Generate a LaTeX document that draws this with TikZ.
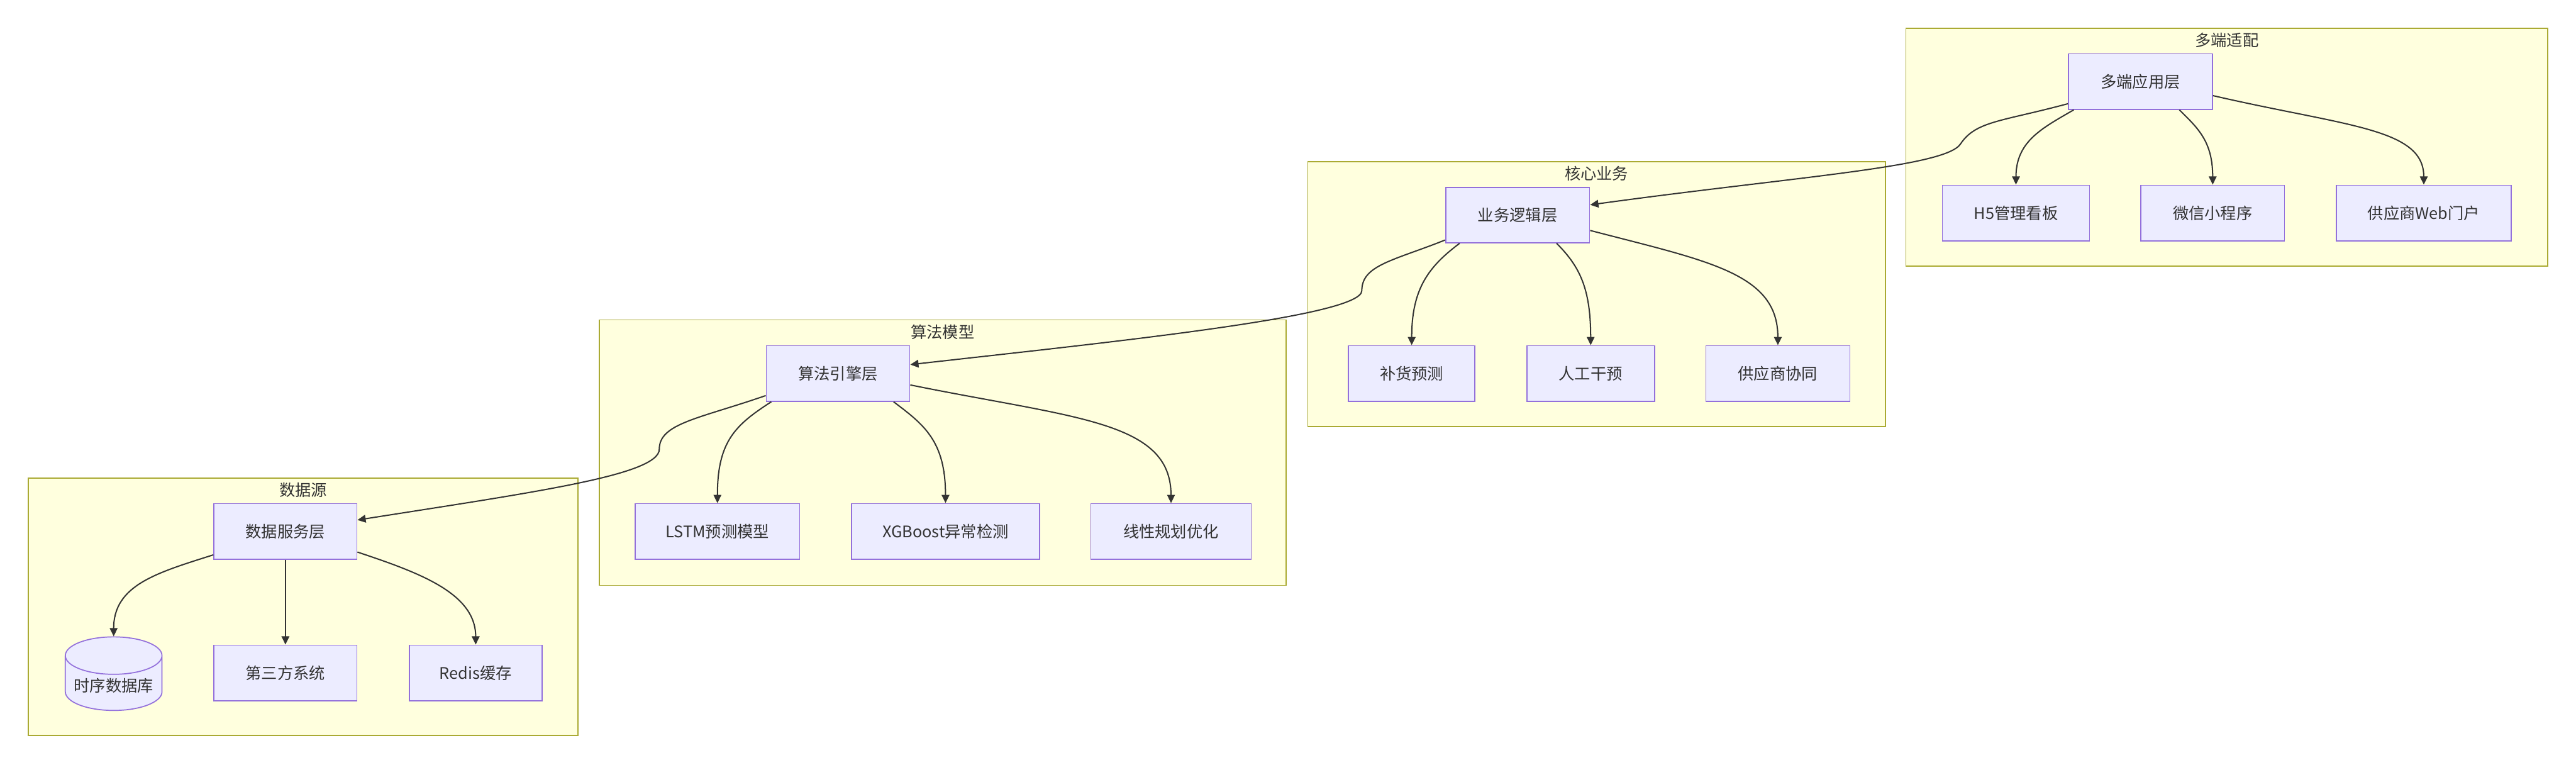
\documentclass[tikz,border=0pt]{standalone}
\usepackage{fontspec}
\setmainfont{Noto Sans CJK SC}
\usepackage{tikz}
\usetikzlibrary{shapes.geometric,arrows.meta,positioning}
\definecolor{grpfill}{HTML}{FFFFDE}
\definecolor{grpline}{HTML}{AAAA33}
\definecolor{boxfill}{HTML}{ECECFF}
\definecolor{boxline}{HTML}{9370DB}
\definecolor{inkgray}{HTML}{333333}

\begin{document}
\begin{tikzpicture}[
    font=\fontsize{8.8pt}{10pt}\selectfont,
    grp/.style={rectangle, draw=grpline, fill=grpfill, line width=0.6pt},
    grptitle/.style={text=inkgray},
    layer/.style={rectangle, draw=boxline, fill=boxfill, line width=0.6pt, minimum height=1.08cm, text=inkgray},
    dbnode/.style={cylinder, shape border rotate=90, aspect=0.45, inner sep=1pt, draw=boxline, fill=boxfill, line width=0.6pt, text=inkgray},
    arr/.style={-{Triangle[length=0.16cm,width=0.15cm]}, draw=inkgray, line width=0.7pt}
]
    \useasboundingbox (0,0) rectangle (50.09,14.86);

    \node[grp, minimum width=10.69cm, minimum height=5.01cm] (grpdata) at (5.895,3.065) {};
    \node[grp, minimum width=13.36cm, minimum height=5.16cm] (grpalgo) at (18.33,6.06) {};
    \node[grp, minimum width=11.23cm, minimum height=5.15cm] (grpbiz) at (31.045,9.145) {};
    \node[grp, minimum width=12.48cm, minimum height=4.62cm] (grpapp) at (43.30,12.00) {};
    \node[grptitle] (tdata) at ([yshift=-0.24cm]grpdata.north) {数据源};
    \node[grptitle] (talgo) at ([yshift=-0.24cm]grpalgo.north) {算法模型};
    \node[grptitle] (tbiz) at ([yshift=-0.24cm]grpbiz.north) {核心业务};
    \node[grptitle] (tapp) at ([yshift=-0.24cm]grpapp.north) {多端适配};

    \node[layer, minimum width=2.78cm] (dsvc) at (5.55,4.53) {数据服务层};
    \node[dbnode, minimum width=1.88cm, minimum height=1.43cm, anchor=shape center] (tsdb) at (2.21,1.765) {时序数据库};
    \node[layer, minimum width=2.78cm] (third) at (5.55,1.78) {第三方系统};
    \node[layer, minimum width=2.58cm] (redis) at (9.25,1.78) {Redis缓存};

    \node[layer, minimum width=2.79cm] (engine) at (16.295,7.60) {算法引擎层};
    \node[layer, minimum width=3.20cm] (lstm) at (13.95,4.53) {LSTM预测模型};
    \node[layer, minimum width=3.65cm] (xgb) at (18.385,4.53) {XGBoost异常检测};
    \node[layer, minimum width=3.12cm] (linopt) at (22.77,4.53) {线性规划优化};

    \node[layer, minimum width=2.80cm] (logic) at (29.51,10.68) {业务逻辑层};
    \node[layer, minimum width=2.46cm] (replen) at (27.45,7.60) {补货预测};
    \node[layer, minimum width=2.48cm] (manual) at (30.93,7.60) {人工干预};
    \node[layer, minimum width=2.80cm] (supco) at (34.57,7.60) {供应商协同};

    \node[layer, minimum width=2.80cm] (multi) at (41.62,13.275) {多端应用层};
    \node[layer, minimum width=2.86cm] (hfive) at (39.20,10.72) {H5管理看板};
    \node[layer, minimum width=2.79cm] (wechat) at (43.025,10.72) {微信小程序};
    \node[layer, minimum width=3.40cm] (portal) at (47.13,10.72) {供应商Web门户};

    \coordinate (bendA) at (12.82,6.13);
    \coordinate (bendB) at (26.48,9.21);
    \coordinate (bendC) at (38.12,12.06);

    \draw[arr] (multi.-163) .. controls +(-1.3,-0.35) and +(0.3,0.45) .. (bendC) .. controls +(-0.3,-0.45) and +(4.0,0.55) .. (logic.8);
    \draw[arr] (logic.-161) .. controls +(-1.0,-0.4) and +(0,0.5) .. (bendB) .. controls +(0,-0.5) and +(4.0,0.45) .. (engine.7);
    \draw[arr] (engine.-163) .. controls +(-1.3,-0.45) and +(0,0.5) .. (bendA) .. controls +(0,-0.5) and +(3.5,0.55) .. (dsvc.9);

    \draw[arr] (multi.-157) .. controls +(-0.6,-0.35) and +(0,0.85) .. (hfive.north);
    \draw[arr] (multi.-36) .. controls +(0.35,-0.35) and +(0,0.85) .. (wechat.north);
    \draw[arr] (multi.-11) .. controls +(2.6,-0.6) and +(0,1.1) .. (portal.north);

    \draw[arr] (logic.-154) .. controls +(-0.6,-0.45) and +(0,1.1) .. (replen.north);
    \draw[arr] (logic.-36) .. controls +(0.45,-0.45) and +(0,1.1) .. (manual.north);
    \draw[arr] (logic.-12) .. controls +(2.3,-0.6) and +(0,1.4) .. (supco.north);

    \draw[arr] (engine.-157) .. controls +(-0.7,-0.45) and +(0,1.2) .. (lstm.north);
    \draw[arr] (engine.-27) .. controls +(0.6,-0.45) and +(0,1.2) .. (xgb.north);
    \draw[arr] (engine.-9) .. controls +(3.2,-0.65) and +(0,1.6) .. (linopt.north);

    \draw[arr] (dsvc.-162) .. controls +(-1.1,-0.35) and +(0,1.0) .. (tsdb.north);
    \draw[arr] (dsvc) -- (third);
    \draw[arr] (dsvc.-16) .. controls +(1.2,-0.4) and +(0,1.0) .. (redis.north);
\end{tikzpicture}
\end{document}
